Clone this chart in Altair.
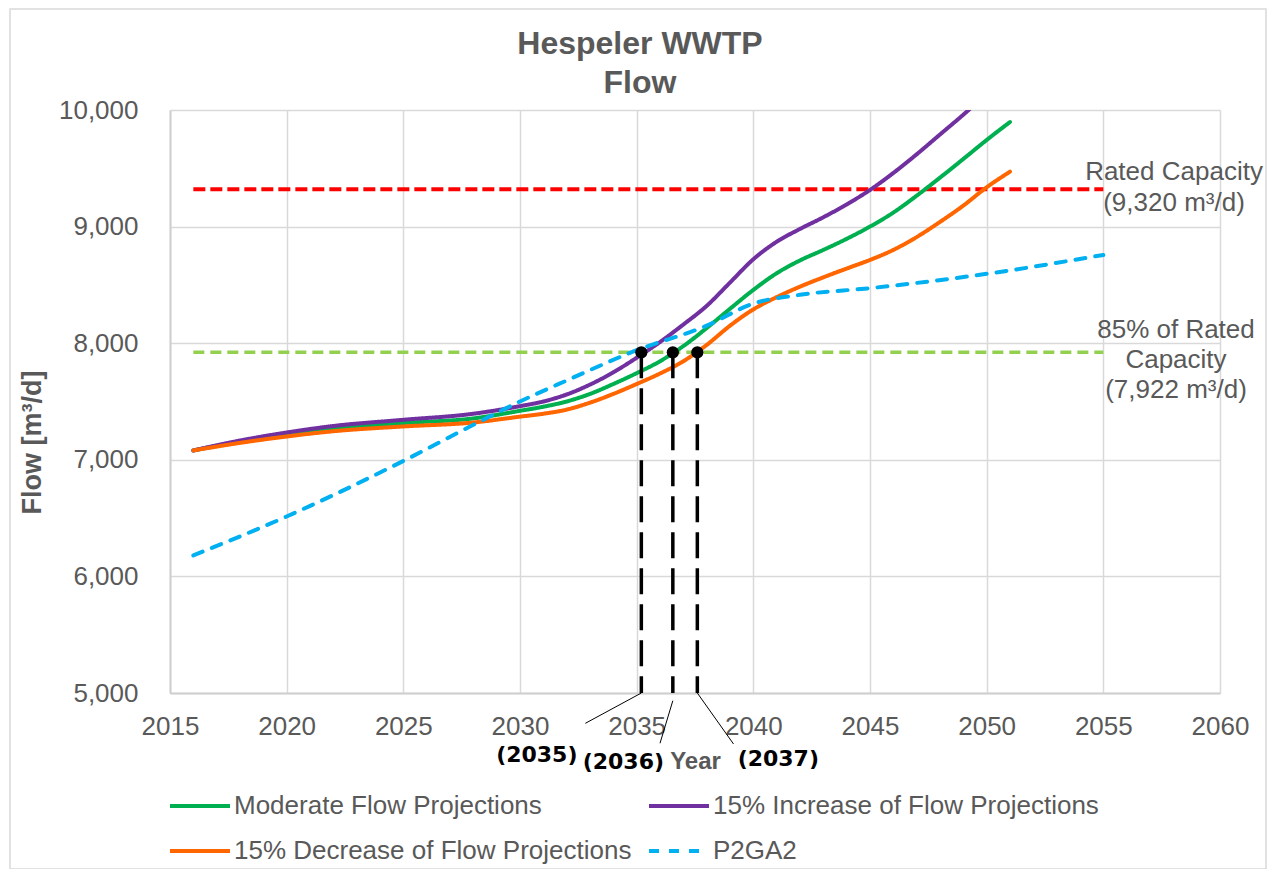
import altair as alt
import pandas as pd

# ---------------- data ----------------
YEARS = [2016, 2018, 2020, 2022, 2025, 2028, 2030, 2031, 2032, 2033, 2034, 2035,
         2036, 2037, 2038, 2039, 2040, 2041, 2042, 2043, 2044, 2045, 2046, 2047,
         2048, 2049, 2050, 2051]
MODERATE = [7080, 7155, 7215, 7265, 7315, 7355, 7420, 7455, 7500, 7565, 7650, 7743,
            7845, 7975, 8130, 8295, 8457, 8600, 8710, 8800, 8895, 9000, 9120, 9265,
            9420, 9580, 9743, 9897]
INCREASE = [7080, 7165, 7234, 7290, 7343, 7395, 7460, 7500, 7560, 7645, 7750, 7875,
            8010, 8160, 8320, 8520, 8720, 8870, 8980, 9080, 9190, 9314, 9460, 9620,
            9790, 9960, 10140, 10320]
DECREASE = [7080, 7145, 7200, 7245, 7286, 7320, 7370, 7395, 7430, 7490, 7565, 7650,
            7740, 7845, 7985, 8150, 8290, 8395, 8485, 8565, 8640, 8714, 8800, 8910,
            9040, 9180, 9337, 9471]
P2GA2_YEARS = [2016, 2020, 2025, 2028, 2030, 2032, 2035, 2038, 2040, 2042, 2045, 2050, 2055]
P2GA2 = [6180, 6514, 6990, 7300, 7500, 7680, 7940, 8150, 8340, 8415, 8472, 8595, 8757]

SERIES = ["Moderate Flow Projections", "15% Increase of Flow Projections",
          "15% Decrease of Flow Projections", "P2GA2"]
COLORS = ["#00B050", "#7030A0", "#FF6600", "#00B0F0"]

RATED = 9320
RATED_85 = 7922
CAP_YEARS = [2016, 2055]

CROSS_YEARS = [2035.2, 2036.55, 2037.6]
CROSS_LABELS = ["(2035)", "(2036)", "(2037)"]

X_TICKS = list(range(2015, 2061, 5))
Y_TICKS = list(range(5000, 10001, 1000))

TITLE = "Hespeler WWTP\nFlow"
RATED_TEXT = "Rated Capacity\n(9,320 m³/d)"
RATED_85_TEXT = "85% of Rated\nCapacity\n(7,922 m³/d)"

# ---------------- annotation layout (not data) ----------------
LEADER_X2 = [2032.8, 2036.0, 2039.15]
LEADER_Y1 = [5000, 4934, 5000]
LEADER_Y2 = [4740, 4569, 4563]
LABEL_X = [2030.72, 2034.43, 2041.07]
LABEL_Y = [4468, 4408, 4434]

# ---------------- tables ----------------
rows = []
for name, vals in zip(SERIES[:3], [MODERATE, INCREASE, DECREASE]):
    for yr, v in zip(YEARS, vals):
        rows.append({"series": name, "year": yr, "flow": v})
for yr, v in zip(P2GA2_YEARS, P2GA2):
    rows.append({"series": SERIES[3], "year": yr, "flow": v})
df = pd.DataFrame(rows)

cross_df = pd.DataFrame({
    "year": CROSS_YEARS, "flow": [RATED_85] * 3, "base": [5000] * 3,
    "lx2": LEADER_X2, "ly1": LEADER_Y1, "ly2": LEADER_Y2,
    "tx": LABEL_X, "ty": LABEL_Y, "label": CROSS_LABELS,
})

FONT = "Liberation Sans"
GRAY = "#595959"
GRID = "#D9D9D9"

x_scale = alt.Scale(domain=[2015, 2060], nice=False, zero=False)
y_scale = alt.Scale(domain=[5000, 10000], nice=False, zero=False)

x_axis = alt.Axis(
    values=X_TICKS, labelExpr="format(datum.value, 'd')", title="Year", labelFont=FONT,
    labelFontSize=26, labelColor=GRAY, labelPadding=20, ticks=False, grid=True,
    gridColor=GRID, gridWidth=1.5, domainColor="#CFCFCF", domainWidth=2, titleFont=FONT,
    titleFontSize=24, titleFontWeight="bold", titleColor=GRAY, titleY=68,
    titleBaseline="middle", labelFlush=False, labelOverlap=False,
)
y_axis = alt.Axis(
    values=Y_TICKS, labelExpr="format(datum.value, ',d')", title="Flow [m³/d]",
    labelFont=FONT, labelFontSize=26, labelColor=GRAY, labelPadding=32, ticks=False,
    grid=True, gridColor=GRID, gridWidth=1.5, domainColor="#CFCFCF", domainWidth=2,
    titleFont=FONT, titleFontSize=27, titleFontWeight="bold", titleColor=GRAY,
    titleX=-138, titleY=332, titleBaseline="middle", titleAlign="center", titleAngle=270,
    labelFlush=False, labelOverlap=False,
)

legend = alt.Legend(
    title=None, orient="none", legendX=-2, legendY=664, columns=2, direction="horizontal",
    columnPadding=9, rowPadding=-2, symbolType="stroke", symbolSize=3600,
    symbolStrokeWidth=5, labelFont=FONT, labelFontSize=26, labelColor=GRAY,
    labelOffset=2, labelLimit=0, padding=0,
)


def X(field):
    return alt.X(field, type="quantitative", scale=x_scale, axis=x_axis)


def Y(field):
    return alt.Y(field, type="quantitative", scale=y_scale, axis=y_axis)


border = alt.Chart(pd.DataFrame({"a": [0]})).mark_rect(
    fillOpacity=0, stroke=GRID, strokeWidth=1.5
).encode(x=alt.value(-160), x2=alt.value(1096), y=alt.value(-101), y2=alt.value(759))

rated = alt.Chart(pd.DataFrame({"year": [CAP_YEARS[0]], "end": [CAP_YEARS[1]], "flow": [RATED]})).mark_rule(
    color="#FF0000", strokeWidth=4, strokeDash=[12, 5]
).encode(x=X("year"), x2="end:Q", y=Y("flow"))

rated85 = alt.Chart(pd.DataFrame({"year": [CAP_YEARS[0]], "end": [CAP_YEARS[1]], "flow": [RATED_85]})).mark_rule(
    color="#92D050", strokeWidth=3.5, strokeDash=[11, 6]
).encode(x=X("year"), x2="end:Q", y=Y("flow"))

lines = alt.Chart(df).mark_line(interpolate="monotone", clip=True, strokeCap="round").encode(
    x=X("year"),
    y=Y("flow"),
    color=alt.Color("series:N", scale=alt.Scale(domain=SERIES, range=COLORS), legend=legend),
    strokeDash=alt.StrokeDash(
        "series:N",
        scale=alt.Scale(domain=SERIES, range=[[1, 0], [1, 0], [1, 0], [10, 10]]),
        legend=legend,
    ),
    strokeWidth=alt.StrokeWidth("series:N", scale=alt.Scale(domain=SERIES, range=[4, 4, 4, 5]), legend=None),
    order=alt.Order("year:Q"),
)

cross = alt.Chart(cross_df)
drops = cross.mark_rule(color="black", strokeWidth=3.5, strokeDash=[26, 10]).encode(
    x=X("year"), y=Y("flow"), y2="base:Q",
)
dots = cross.mark_circle(color="black", size=150, opacity=1).encode(
    x=X("year"), y=Y("flow"),
)
leaders = cross.mark_rule(color="black", strokeWidth=1).encode(
    x=X("year"), x2="lx2:Q", y=Y("ly1"), y2="ly2:Q",
)
labels = cross.mark_text(font="DejaVu Sans", fontSize=22, fontWeight="bold", color="black",
                         align="center", baseline="middle").encode(
    x=X("tx"), y=Y("ty"), text="label:N",
)

texts = alt.Chart(pd.DataFrame({"a": [0]}))
title = texts.mark_text(text=TITLE, lineBreak="\n", font=FONT, fontSize=32, fontWeight="bold",
                        color=GRAY, align="center", baseline="alphabetic", lineHeight=39).encode(
    x=alt.value(470), y=alt.value(-56))
rated_txt = texts.mark_text(text=RATED_TEXT, lineBreak="\n", font=FONT, fontSize=26, color=GRAY,
                            align="center", baseline="alphabetic", lineHeight=31).encode(
    x=alt.value(1004), y=alt.value(70))
rated85_txt = texts.mark_text(text=RATED_85_TEXT, lineBreak="\n", font=FONT, fontSize=26, color=GRAY,
                              align="center", baseline="alphabetic", lineHeight=30).encode(
    x=alt.value(1006), y=alt.value(228))

chart = alt.layer(
    border, rated, rated85, lines, drops, dots, leaders, labels, title, rated_txt, rated85_txt
).properties(
    width=1050, height=583,
    autosize=alt.AutoSizeParams(type="none"),
    padding={"left": 162, "top": 102, "right": 47, "bottom": 176},
).configure_view(stroke=None)

chart.save("out.html", embed_options={"renderer": "svg", "actions": False})
